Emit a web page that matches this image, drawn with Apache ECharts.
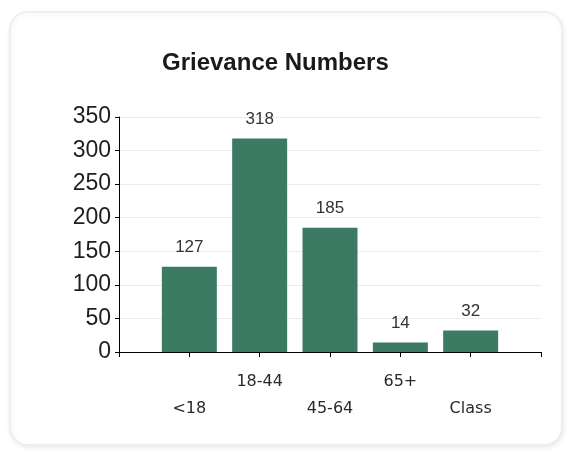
<!DOCTYPE html>
<html>
<head>
<meta charset="utf-8">
<script src="https://cdn.jsdelivr.net/npm/echarts@6/dist/echarts.min.js"></script>
<style>
html,body{margin:0;padding:0;background:#ffffff;}
#chart{width:570px;height:456px;}
</style>
</head>
<body>
<div id="chart"></div>
<script>
var categories = ['', '<18', '18-44', '45-64', '65+', 'Class', ''];
var values = ['-', 127, 318, 185, 14, 32, '-'];
var yTicks = [0, 50, 100, 150, 200, 250, 300, 350];
var titleText = 'Grievance Numbers';

var chart = echarts.init(document.getElementById('chart'), null, {renderer: 'canvas'});
chart.setOption({
  backgroundColor: '#ffffff',
  animation: false,
  graphic: [{
    type: 'rect',
    z: -10,
    shape: {x: 10, y: 12, width: 552, height: 433, r: 18},
    style: {fill: '#ffffff', stroke: '#ececec', lineWidth: 1.5,
      shadowBlur: 5, shadowColor: 'rgba(0,0,0,0.08)', shadowOffsetX: 1, shadowOffsetY: 2}
  }],
  title: {
    text: titleText,
    left: 157,
    top: 46,
    textStyle: {fontFamily: 'Liberation Sans, Arial, sans-serif', fontSize: 24, fontWeight: 'bold', color: '#1a1a1a'}
  },
  grid: {left: 119, right: 29, top: 117, bottom: 104, containLabel: false},
  xAxis: {
    type: 'category',
    data: categories,
    boundaryGap: false,
    axisLine: {lineStyle: {color: '#000', width: 1}},
    axisTick: {show: true, length: 5, lineStyle: {color: '#000'}},
    axisLabel: {
      interval: 0,
      margin: 16,
      fontFamily: 'DejaVu Sans, sans-serif',
      fontSize: 16,
      color: '#2a2a2a',
      lineHeight: 27,
      formatter: function (v, i) { return (i % 2 === 1) ? '\n' + v : v; }
    },
    splitLine: {show: false}
  },
  yAxis: {
    type: 'value',
    min: yTicks[0],
    max: yTicks[yTicks.length - 1],
    interval: yTicks[1] - yTicks[0],
    axisLine: {show: true, lineStyle: {color: '#000', width: 1}},
    axisTick: {show: true, length: 4, lineStyle: {color: '#000'}},
    axisLabel: {margin: 8, fontFamily: 'Liberation Sans, Arial, sans-serif', fontSize: 23, color: '#1e1e1e'},
    splitLine: {show: true, lineStyle: {color: '#ebebeb', width: 1}}
  },
  series: [{
    type: 'bar',
    data: values,
    barWidth: 55,
    itemStyle: {color: '#3c7a64'},
    label: {
      show: true,
      position: 'top',
      distance: 11,
      fontFamily: 'Liberation Sans, Arial, sans-serif',
      fontSize: 17,
      color: '#333'
    }
  }]
});
</script>
</body>
</html>
